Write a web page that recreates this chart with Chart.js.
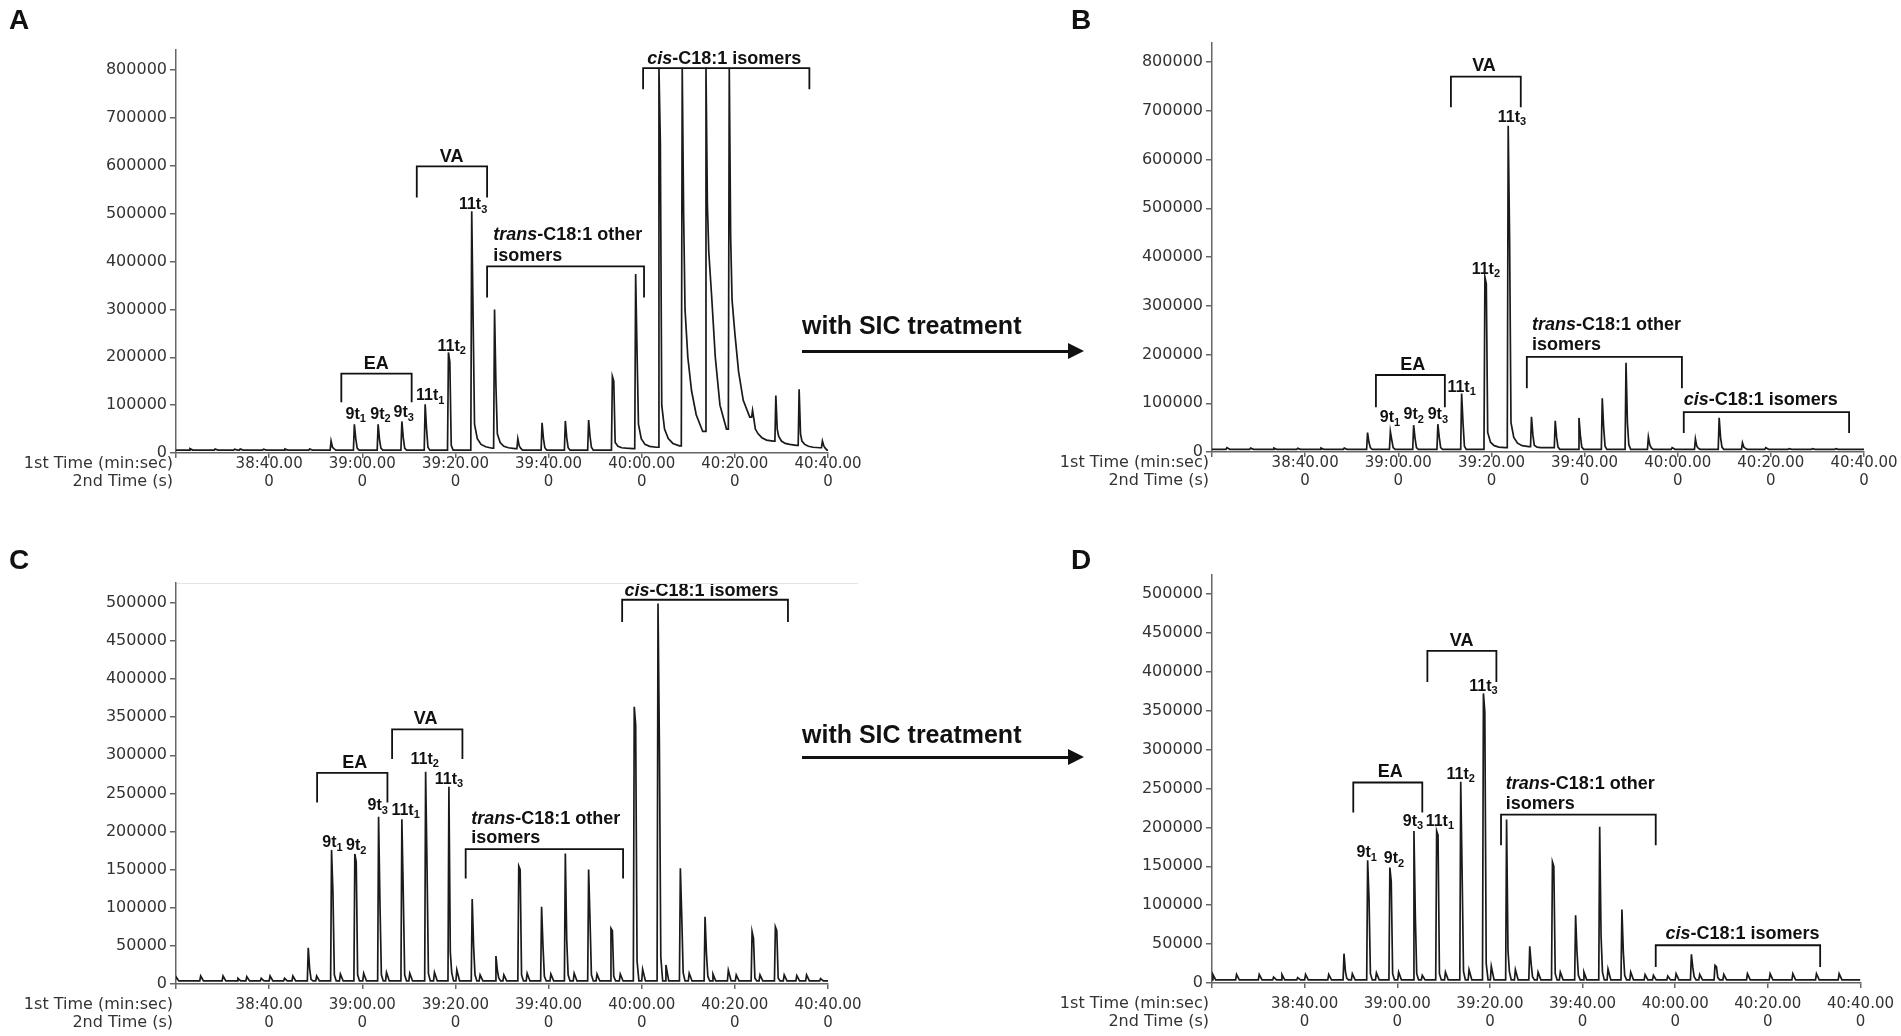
<!DOCTYPE html>
<html>
<head>
<meta charset="utf-8">
<script src="https://cdn.jsdelivr.net/npm/chart.js@4.4.1/dist/chart.umd.min.js"></script>
<style>
  body { margin: 0; background: #fff; width: 1901px; height: 1036px; position: relative; overflow: hidden; }
  .panel { position: absolute; }
  .letter { position: absolute; font: bold 28px/28px "Liberation Sans", Arial, sans-serif; color: #111; }
  .treat { position: absolute; font: bold 25px/25px "Liberation Sans", Arial, sans-serif; color: #111; white-space: nowrap; }
  .arrow { position: absolute; height: 3px; background: #111; }
  .arrow:after { content: ''; position: absolute; right: -16px; top: -7px; border-left: 16px solid #111;
    border-top: 8.5px solid transparent; border-bottom: 8.5px solid transparent; }
  .frame { position: absolute; height: 1px; background: #e4e4e4; }
</style>
</head>
<body>
<div class="panel" style="left:0;top:0"><canvas id="chartA" width="900" height="510"></canvas></div>
<div class="panel" style="left:950px;top:0"><canvas id="chartB" width="951" height="510"></canvas></div>
<div class="panel" style="left:0;top:520px"><canvas id="chartC" width="900" height="516"></canvas></div>
<div class="panel" style="left:950px;top:520px"><canvas id="chartD" width="951" height="516"></canvas></div>
<div class="frame" style="left:177px;top:583px;width:681px"></div>

<div class="letter" style="left:9px;top:6px">A</div>
<div class="letter" style="left:1071px;top:6px">B</div>
<div class="letter" style="left:9px;top:546px">C</div>
<div class="letter" style="left:1071px;top:546px">D</div>

<div class="treat" style="left:802px;top:313px">with SIC treatment</div>
<div class="arrow" style="left:802px;top:350px;width:266px"></div>
<div class="treat" style="left:802px;top:722px">with SIC treatment</div>
<div class="arrow" style="left:802px;top:756px;width:266px"></div>

<script>
// x axis: 1st dimension retention time (s), ticks every 20 s
const timeTicks = [2300, 2320, 2340, 2360, 2380, 2400, 2420, 2440];
const timeTickLabels = ['', '38:40.00', '39:00.00', '39:20.00', '39:40.00', '40:00.00', '40:20.00', '40:40.00'];
const secondTimeLabels = ['', '0', '0', '0', '0', '0', '0', '0'];

const intensityTicksTop = [0, 100000, 200000, 300000, 400000, 500000, 600000, 700000, 800000];
const intensityTicksBottom = [0, 50000, 100000, 150000, 200000, 250000, 300000, 350000, 400000, 450000, 500000];

// seconds after the apex at which the tail readings below are taken
const tailOffsets = [0.6, 1.2, 2.0, 3.0, 4.4];

// peaks: [time, apex, shoulder, tail readings...]
const peaksA = [
  [2303.0, 9000], [2308.4, 8500], [2312.6, 8000], [2313.8, 8500], [2318.8, 8000], [2323.4, 8500], [2328.7, 8500],
  [2333.3, 25000, 12000, 9000],
  [2338.3, 60000, 30000, 10000],
  [2343.4, 60000, 28000, 10000],
  [2348.5, 66000, 32000, 10000],
  [2353.5, 102000, 50000, 12000],
  [2358.5, 210000, 190000, 16000],
  [2363.5, 505000, 280000, 60000, 30000, 18000, 13000, 10000],
  [2368.4, 300000, 140000, 40000, 22000, 14000, 11000, 9000],
  [2373.4, 30000, 15000, 10000],
  [2378.6, 63000, 30000, 11000],
  [2383.6, 67000, 32000, 11000],
  [2388.6, 69000, 35000, 12000],
  [2393.7, 160000, 150000, 22000, 14000, 11000, 10000, 9000],
  [2398.7, 374000, 210000, 60000, 30000, 18000, 14000, 12000],
  [2403.7, 805000, 650000, 100000, 50000, 30000, 20000, 15000],
  [2408.7, 805000, 500000, 300000, 200000, 130000, 80000, 45000],
  [2413.8, 805000, 520000, 420000, 330000, 200000, 100000, 50000],
  [2418.8, 805000, 450000, 320000, 250000, 170000, 110000, 75000],
  [2423.8, 89000, 70000, 50000, 40000, 32000, 27000, 25000],
  [2428.8, 120000, 50000, 35000, 25000, 20000, 18000, 16000],
  [2433.8, 133000, 40000, 25000, 18000, 14000, 12000, 11000],
  [2438.8, 25000, 15000, 10000]
];
const peaksB = [
  [2303.2, 9000], [2308.3, 8000], [2313.3, 8000], [2318.4, 7500], [2323.4, 8000], [2328.4, 8000],
  [2333.4, 40000, 20000, 9000],
  [2338.3, 42000, 25000, 9000],
  [2343.3, 55000, 28000, 9000],
  [2348.5, 57000, 30000, 9000],
  [2353.6, 120000, 60000, 12000],
  [2358.6, 359000, 345000, 40000, 20000, 13000, 10000, 9000],
  [2363.6, 669000, 439000, 60000, 30000, 18000, 13000, 11000],
  [2368.6, 72000, 35000, 14000, 10000, 9000],
  [2373.7, 64000, 30000, 10000],
  [2378.8, 70000, 34000, 10000],
  [2383.8, 110000, 50000, 12000],
  [2388.9, 183000, 60000, 15000],
  [2393.7, 31000, 15000, 9000],
  [2398.8, 9000],
  [2403.8, 27000, 12000, 8000],
  [2408.9, 70000, 30000, 10000],
  [2413.9, 19000, 10000, 8000],
  [2418.9, 9000], [2423.9, 7000], [2428.9, 7000], [2433.9, 7000]
];
const peaksC = [
  [2300.0, 9600], [2305.3, 10500], [2310.1, 10500], [2313.3, 7400], [2315.2, 9600], [2318.3, 7400],
  [2320.2, 10500], [2323.3, 7400], [2325.1, 10500],
  [2328.4, 47600, 20000, 6000], [2330.2, 10500],
  [2333.4, 175700, 120000, 12000], [2335.3, 13000],
  [2338.4, 170500, 160000, 12000], [2340.3, 14000],
  [2343.5, 219400, 103600, 12000], [2345.2, 15000],
  [2348.5, 216000, 119000, 12000], [2350.2, 14000],
  [2353.6, 278400, 154000, 14000], [2355.5, 15000],
  [2358.6, 258700, 42000, 15000], [2360.3, 18400],
  [2363.6, 111500, 50000, 12000], [2365.3, 12000],
  [2368.7, 36700, 18000, 8000], [2370.4, 12000],
  [2373.6, 154700, 150000, 12000], [2375.4, 14000],
  [2378.5, 101400, 50000, 10000], [2380.5, 13000],
  [2383.6, 171300, 57700, 12000], [2385.5, 14000],
  [2388.6, 150300, 84000, 12000], [2390.4, 13000],
  [2393.4, 73000, 70000, 10000], [2395.4, 13000],
  [2398.4, 363600, 339600, 30000], [2400.2, 19200],
  [2403.5, 499000, 309000, 35000], [2405.2, 25000],
  [2408.3, 151700, 88000, 15000], [2410.2, 14000],
  [2413.6, 88300, 40000, 10000], [2415.3, 13000],
  [2418.6, 18000], [2420.3, 12000],
  [2423.7, 68600, 60000, 8000], [2425.4, 12000],
  [2428.7, 75000, 70000, 8000], [2430.6, 12000],
  [2433.3, 11000], [2435.4, 12000], [2438.4, 7000]
];
const peaksD = [
  [2300.2, 11000], [2305.3, 11000], [2310.2, 11000], [2313.3, 7700], [2315.1, 11000], [2318.5, 7000],
  [2320.2, 11000], [2325.2, 11000],
  [2328.5, 37700, 15000, 6000], [2330.3, 12000],
  [2333.6, 157800, 108500, 12000], [2335.5, 13000],
  [2338.4, 148400, 130000, 12000], [2340.3, 14000],
  [2343.6, 195500, 85000, 12000], [2345.4, 10000],
  [2348.5, 195500, 190000, 12000], [2350.4, 14000],
  [2353.7, 258600, 140600, 15000], [2355.5, 17000],
  [2358.6, 372200, 348600, 25000], [2360.3, 21400],
  [2363.6, 210100, 42000, 15000], [2365.5, 17000],
  [2368.6, 47200, 25000, 8000], [2370.4, 14000],
  [2373.5, 155700, 150000, 12000], [2375.2, 14000],
  [2378.5, 87000, 40000, 10000], [2380.3, 14000],
  [2383.7, 200700, 60000, 14000], [2385.5, 18000],
  [2388.5, 94300, 40000, 10000], [2390.4, 14000],
  [2393.5, 10700], [2395.3, 10000], [2398.4, 9000], [2400.2, 12000],
  [2403.5, 36900, 20000, 8000], [2405.3, 11000],
  [2408.6, 22700, 21000, 7000], [2410.5, 11000],
  [2415.6, 12000], [2420.5, 12000], [2425.4, 12000], [2430.5, 12000], [2435.4, 12000]
];
const baselineA = 6000, baselineB = 5500, baselineC = 4000, baselineD = 4000;

// turn the peak list into a trace of (time, intensity) points
function buildTrace(peaks, base) {
  const pts = [{ x: 2299.5, y: base }];
  let level = base;
  peaks.forEach(p => {
    const [t, apex, shoulder, ...tail] = p;
    pts.push({ x: t - 0.2, y: level });
    pts.push({ x: t, y: apex });
    if (shoulder !== undefined) pts.push({ x: t + 0.3, y: shoulder });
    tail.forEach((v, i) => pts.push({ x: t + tailOffsets[i], y: v }));
    if (tail.length > 1) {
      level = tail[tail.length - 1];
    } else {
      if (!tail.length) pts.push({ x: t + 0.6, y: level });
      pts.push({ x: t + 1.0, y: base });
      level = base;
    }
  });
  pts.push({ x: 2440, y: base });
  return pts;
}

const boldFont = '"Liberation Sans", Arial, sans-serif';
const tickFont = '"DejaVu Sans", Verdana, sans-serif';

function pk(base, sub, t, v) {
  return { segs: [{ s: base }, { s: sub, sub: true }], t, v, align: 'center' };
}
function isoText(prefix, rest, t, v) {
  return { segs: [{ s: prefix, italic: true, big: true }, { s: rest, big: true }], t, v, align: 'left' };
}
function plain(s, t, v, align) {
  return { segs: [{ s, big: true }], t, v, align: align || 'center' };
}

const annotA = {
  brackets: [[2335.5, 2350.6, 166000, 106000], [2351.7, 2366.8, 599000, 534000],
             [2366.8, 2400.5, 390000, 325000], [2400.3, 2436.0, 804000, 760000]],
  texts: [plain('EA', 2343.0, 186000), plain('VA', 2359.2, 618000),
          pk('11t', '3', 2363.8, 518000), pk('11t', '2', 2359.2, 223000), pk('11t', '1', 2354.6, 119000),
          pk('9t', '1', 2338.6, 81000), pk('9t', '2', 2343.9, 81000), pk('9t', '3', 2348.9, 84000),
          isoText('trans', '-C18:1 other', 2368.1, 456000), plain('isomers', 2368.1, 412000, 'left'),
          isoText('cis', '-C18:1 isomers', 2401.2, 824000)]
};
const annotB = {
  brackets: [[2335.2, 2350.0, 158000, 92000], [2351.3, 2366.3, 770000, 707000],
             [2367.6, 2400.9, 195000, 131000], [2401.3, 2436.8, 82000, 39000]],
  texts: [plain('EA', 2343.1, 179000), plain('VA', 2358.4, 792000),
          pk('11t', '3', 2364.4, 687000), pk('11t', '2', 2358.8, 375000), pk('11t', '1', 2353.6, 133000),
          pk('9t', '1', 2338.2, 70000), pk('9t', '2', 2343.3, 76000), pk('9t', '3', 2348.5, 76000),
          isoText('trans', '-C18:1 other', 2368.7, 261000), plain('isomers', 2368.7, 219000, 'left'),
          isoText('cis', '-C18:1 isomers', 2401.3, 106000)]
};
const annotC = {
  brackets: [[2330.3, 2345.4, 277000, 238000], [2346.4, 2361.5, 334000, 295000],
             [2362.2, 2396.0, 177000, 138500], [2395.8, 2431.4, 504000, 475000]],
  texts: [plain('EA', 2338.4, 290000), plain('VA', 2353.6, 347000),
          pk('11t', '2', 2353.4, 294600), pk('11t', '3', 2358.6, 268400),
          pk('9t', '3', 2343.3, 233400), pk('11t', '1', 2349.3, 228000),
          pk('9t', '1', 2333.6, 185000), pk('9t', '2', 2338.7, 181000),
          isoText('trans', '-C18:1 other', 2363.4, 217000), plain('isomers', 2363.4, 192000, 'left'),
          isoText('cis', '-C18:1 isomers', 2396.3, 515000)]
};
const annotD = {
  brackets: [[2330.5, 2345.4, 257700, 219000], [2346.5, 2361.4, 427000, 387000],
             [2362.4, 2395.8, 216500, 177000], [2395.8, 2431.3, 48500, 20600]],
  texts: [plain('EA', 2338.5, 271000), plain('VA', 2353.9, 439000),
          pk('11t', '3', 2358.6, 381600), pk('11t', '2', 2353.7, 268500),
          pk('9t', '3', 2343.4, 208000), pk('11t', '1', 2349.2, 208000),
          pk('9t', '1', 2333.4, 167700), pk('9t', '2', 2339.3, 160000),
          isoText('trans', '-C18:1 other', 2363.4, 255600), plain('isomers', 2363.4, 229400, 'left'),
          isoText('cis', '-C18:1 isomers', 2397.9, 63000)]
};

function segFont(seg) {
  if (seg.sub) return 'bold 11px ' + boldFont;
  return (seg.italic ? 'italic ' : '') + 'bold ' + (seg.big ? 18 : 16) + 'px ' + boldFont;
}

function drawSegs(ctx, segs, x, y, align) {
  let total = 0;
  segs.forEach(seg => { ctx.font = segFont(seg); seg.w = ctx.measureText(seg.s).width; total += seg.w; });
  let cx = align === 'left' ? x : x - total / 2;
  segs.forEach(seg => {
    ctx.font = segFont(seg);
    ctx.fillText(seg.s, cx, seg.sub ? y + 5 : y);
    cx += seg.w;
  });
}

const xLineHeight = 18;

function annotPlugin(annot) {
  return {
    id: 'peakLabels',
    afterDraw(chart) {
      const { ctx, scales: { x, y } } = chart;
      ctx.save();
      ctx.strokeStyle = '#111';
      ctx.fillStyle = '#111';
      ctx.lineWidth = 1.8;
      annot.brackets.forEach(([t0, t1, top, leg]) => {
        const x0 = x.getPixelForValue(t0), x1 = x.getPixelForValue(t1);
        const yt = y.getPixelForValue(top), yl = y.getPixelForValue(leg);
        ctx.beginPath();
        ctx.moveTo(x0, yl); ctx.lineTo(x0, yt); ctx.lineTo(x1, yt); ctx.lineTo(x1, yl);
        ctx.stroke();
      });
      ctx.textBaseline = 'middle';
      ctx.textAlign = 'left';
      annot.texts.forEach(tx => {
        drawSegs(ctx, tx.segs, x.getPixelForValue(tx.t), y.getPixelForValue(tx.v), tx.align);
      });
      // axis titles left of the time tick labels
      const opts = x.options;
      const y1 = x.top + opts.grid.tickLength + opts.ticks.padding + xLineHeight / 2;
      ctx.font = '16px ' + tickFont;
      ctx.fillStyle = '#333';
      ctx.textAlign = 'right';
      ctx.fillText('1st Time (min:sec)', chart.chartArea.left - 3, y1);
      ctx.fillText('2nd Time (s)', chart.chartArea.left - 3, y1 + xLineHeight);
      ctx.restore();
    }
  };
}

function makeChart(id, peaks, base, yTicks, yMax, box, annot) {
  const canvas = document.getElementById(id);
  return new Chart(canvas, {
    type: 'line',
    data: {
      datasets: [{
        data: buildTrace(peaks, base),
        borderColor: '#1a1a1a',
        borderWidth: 1.7,
        pointRadius: 0,
        tension: 0,
        fill: false
      }]
    },
    options: {
      responsive: false,
      animation: false,
      parsing: false,
      layout: { padding: { left: 0, top: box.top, right: canvas.width - box.right, bottom: 0 } },
      plugins: { legend: { display: false }, tooltip: { enabled: false } },
      scales: {
        x: {
          type: 'linear',
          min: 2300,
          max: 2440,
          afterBuildTicks: s => { s.ticks = timeTicks.map(v => ({ value: v })); },
          afterFit: s => { s.height = canvas.height - box.bottom; },
          ticks: {
            autoSkip: false,
            maxRotation: 0,
            padding: box.labelPad,
            color: '#333',
            font: { family: tickFont, size: 15, lineHeight: xLineHeight / 15 },
            callback: value => {
              const i = timeTicks.indexOf(value);
              return i <= 0 ? '' : [timeTickLabels[i], secondTimeLabels[i]];
            }
          },
          grid: { drawOnChartArea: false, drawTicks: true, tickLength: 5, color: '#666', lineWidth: 1.5 },
          border: { display: true, color: '#666', width: 1.5 }
        },
        y: {
          min: 0,
          max: yMax,
          afterBuildTicks: s => { s.ticks = yTicks.map(v => ({ value: v })); },
          afterFit: s => { s.width = box.left; },
          ticks: {
            crossAlign: 'near',
            padding: 3,
            color: '#333',
            font: { family: tickFont, size: 16 },
            callback: value => String(value)
          },
          grid: { drawOnChartArea: false, drawTicks: true, tickLength: 6, color: '#666', lineWidth: 1.5 },
          border: { display: true, color: '#666', width: 1.5 }
        }
      }
    },
    plugins: [annotPlugin(annot)]
  });
}

makeChart('chartA', peaksA, baselineA, intensityTicksTop, 842000, { left: 176, right: 828, top: 50, bottom: 453, labelPad: -3 }, annotA);
makeChart('chartB', peaksB, baselineB, intensityTicksTop, 839000, { left: 262, right: 914, top: 43, bottom: 452, labelPad: -3 }, annotB);
makeChart('chartC', peaksC, baselineC, intensityTicksBottom, 526000, { left: 176, right: 828, top: 63, bottom: 464, labelPad: 7 }, annotC);
makeChart('chartD', peaksD, baselineD, intensityTicksBottom, 524400, { left: 262, right: 914, top: 55, bottom: 463, labelPad: 7 }, annotD);
</script>
</body>
</html>
